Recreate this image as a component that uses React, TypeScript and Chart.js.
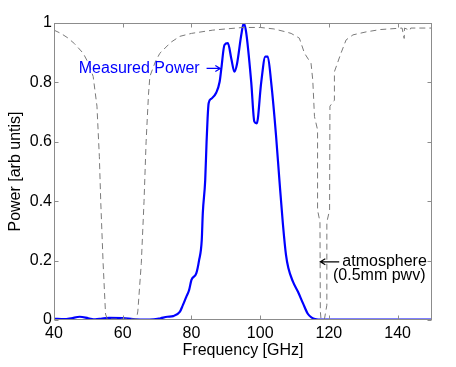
import React, { useEffect, useRef } from "react";
import { Chart, registerables } from "chart.js";

Chart.register(...registerables);

// Measured power spectrum (blue)
const powerFreq = [
  40, 43, 45, 47.5, 50, 52, 54, 56, 60, 63, 66, 69, 71, 73, 74.7, 76.6, 77.5, 78.5, 79.3, 80, 81.4, 82.2, 83, 83.3, 84,
  84.4, 84.7, 85.0, 85.8, 87.2, 88.2, 88.7, 89.6, 90.6, 91.6, 92.5, 93.2, 94.5, 95.2, 95.9, 97.4, 98.3, 99.0,
  100.3, 101.5, 102.2, 103.2, 104.6, 105.6, 106.6, 107.5, 108.2, 109.5, 111, 112.5, 113.8, 115, 116, 118, 120,
  130, 140, 150,
];
const powerValues = [
  0.004, 0.003, 0.006, 0.011, 0.006, 0.002, 0.005, 0.007, 0.006, 0.003, 0.001, 0.002, 0.006, 0.011, 0.013, 0.027,
  0.05, 0.078, 0.1, 0.135, 0.157, 0.2, 0.27, 0.36, 0.47, 0.6, 0.68, 0.73, 0.745, 0.765, 0.802, 0.847, 0.926, 0.932,
  0.88, 0.836, 0.859, 0.96, 0.999, 0.97, 0.8, 0.668, 0.662, 0.8, 0.887, 0.887, 0.8, 0.623, 0.47, 0.325, 0.22, 0.175,
  0.13, 0.095, 0.055, 0.022, 0.008, 0.003, 0.001, 0.001, 0.001, 0.001, 0.001,
];

// Atmospheric transmission, 0.5 mm pwv (dashed)
const atmFreq = [
  40, 42, 44, 46, 48.5, 50, 51.4, 52.5, 53.2, 53.6, 54.3, 55, 55.5, 64, 64.4, 65.4, 66.2, 66.8, 67.5, 67.9, 69.5, 70.8,
  74, 76.6, 80, 86.2, 90, 95, 100, 104, 107.5, 109, 111.4, 112.9, 114.8, 115.3, 115.8, 116.7, 116.7, 117.4, 117.5,
  117.7, 118.7, 119.4, 119.4, 120.2, 120.3, 121.6, 121.6, 123.5, 125, 127, 130.8, 135, 141.3, 141.9, 142.0, 143.6,
  143.8, 150,
];
const atmValues = [
  0.976, 0.965, 0.95, 0.93, 0.898, 0.865, 0.82, 0.72, 0.55, 0.4, 0.19, 0.02, 0.003, 0.003, 0.03, 0.19, 0.4, 0.6, 0.76,
  0.82, 0.87, 0.898, 0.935, 0.955, 0.965, 0.976, 0.98, 0.985, 0.985, 0.98, 0.97, 0.965, 0.949, 0.898, 0.864, 0.808,
  0.685, 0.64, 0.37, 0.33, 0.03, 0.003, 0.003, 0.05, 0.33, 0.37, 0.72, 0.74, 0.836, 0.898, 0.943, 0.96, 0.97, 0.978,
  0.983, 0.948, 0.983, 0.975, 0.983, 0.983,
];

const xTickValues = [40, 60, 80, 100, 120, 140];
const yTickValues = [0, 0.2, 0.4, 0.6, 0.8, 1];

const FONT = "'Liberation Sans', Arial, Helvetica, sans-serif";

function arrow(ctx: CanvasRenderingContext2D, x0: number, x1: number, y: number, color: string) {
  const dir = Math.sign(x1 - x0);
  ctx.save();
  ctx.strokeStyle = color;
  ctx.lineWidth = 1.2;
  ctx.beginPath();
  ctx.moveTo(x0, y);
  ctx.lineTo(x1, y);
  ctx.moveTo(x1 - dir * 5, y - 3);
  ctx.lineTo(x1, y);
  ctx.lineTo(x1 - dir * 5, y + 3);
  ctx.stroke();
  ctx.restore();
}

const framePlugin = {
  id: "frame",
  afterDatasetsDraw(chart: any) {
    const { ctx, chartArea: a, scales } = chart;
    const xs = scales.x;
    const ys = scales.y;
    ctx.save();
    ctx.strokeStyle = "#8c8c8c";
    ctx.lineWidth = 1;
    const L = Math.round(a.left) + 0.5;
    const R = Math.round(a.right) - 0.5;
    const T = Math.round(a.top) + 0.5;
    const B = Math.round(a.bottom) - 0.5;
    ctx.strokeRect(L, T, R - L, B - T);
    const tl = 4;
    ctx.beginPath();
    xTickValues.forEach((v) => {
      const px = Math.round(xs.getPixelForValue(v)) + 0.5;
      ctx.moveTo(px, B);
      ctx.lineTo(px, B - tl);
      ctx.moveTo(px, T);
      ctx.lineTo(px, T + tl);
    });
    yTickValues.forEach((v) => {
      const py = Math.round(ys.getPixelForValue(v)) + 0.5;
      ctx.moveTo(L, py);
      ctx.lineTo(L + tl, py);
      ctx.moveTo(R, py);
      ctx.lineTo(R - tl, py);
    });
    ctx.stroke();
    ctx.restore();
  },
  afterDraw(chart: any) {
    const { ctx, scales } = chart;
    const xs = scales.x;
    const ys = scales.y;
    ctx.save();
    ctx.font = `16px ${FONT}`;
    ctx.textBaseline = "middle";
    // Measured power label
    ctx.fillStyle = "#0000ff";
    ctx.textAlign = "right";
    ctx.fillText("Measured Power", xs.getPixelForValue(82.4), ys.getPixelForValue(0.845));
    arrow(ctx, xs.getPixelForValue(84.4), xs.getPixelForValue(88.4), ys.getPixelForValue(0.847), "#0000ff");
    // Atmosphere label
    ctx.fillStyle = "#000000";
    ctx.textAlign = "left";
    ctx.fillText("atmosphere", xs.getPixelForValue(123.9), ys.getPixelForValue(0.196));
    ctx.fillText("(0.5mm pwv)", xs.getPixelForValue(121.2), ys.getPixelForValue(0.148));
    arrow(ctx, xs.getPixelForValue(123.0), xs.getPixelForValue(117.5), ys.getPixelForValue(0.196), "#000000");
    ctx.restore();
  },
};

export default function App() {
  const ref = useRef<HTMLCanvasElement | null>(null);

  useEffect(() => {
    if (!ref.current) return;
    const chart = new Chart(ref.current, {
      type: "line",
      data: {
        datasets: [
          {
            label: "atmosphere",
            data: atmFreq.map((f, i) => ({ x: f, y: atmValues[i] })),
            borderColor: "#7a7a7a",
            borderWidth: 1,
            borderDash: [6, 4],
            pointRadius: 0,
            tension: 0,
            fill: false,
          },
          {
            label: "Measured Power",
            data: powerFreq.map((f, i) => ({ x: f, y: powerValues[i] })),
            borderColor: "#0000ff",
            borderWidth: 2.2,
            pointRadius: 0,
            cubicInterpolationMode: "monotone",
            borderJoinStyle: "round",
            borderCapStyle: "round",
            fill: false,
          },
        ],
      },
      options: {
        animation: false,
        responsive: false,
        maintainAspectRatio: false,
        layout: { padding: { left: 0, right: 24, top: 23, bottom: 0 } },
        plugins: { legend: { display: false }, tooltip: { enabled: false } },
        scales: {
          x: {
            type: "linear",
            min: 40,
            max: 150,
            grid: { display: false, drawTicks: false },
            border: { display: false },
            afterBuildTicks: (s: any) => {
              s.ticks = xTickValues.map((v) => ({ value: v }));
            },
            afterFit: (s: any) => {
              s.height = 47;
            },
            ticks: {
              padding: 4,
              color: "#000",
              font: { family: FONT, size: 16 },
              maxRotation: 0,
              autoSkip: false,
              callback: (v: any) => String(v),
            },
            title: {
              display: true,
              text: "Frequency [GHz]",
              color: "#000",
              font: { family: FONT, size: 16 },
              padding: { top: 0, bottom: 7 },
            },
          },
          y: {
            type: "linear",
            min: 0,
            max: 1,
            grid: { display: false, drawTicks: false },
            border: { display: false },
            afterBuildTicks: (s: any) => {
              s.ticks = yTickValues.map((v) => ({ value: v }));
            },
            afterFit: (s: any) => {
              s.width = 54;
            },
            ticks: {
              padding: 2,
              color: "#000",
              font: { family: FONT, size: 16 },
              autoSkip: false,
              callback: (v: any) => String(v),
            },
            title: {
              display: true,
              text: "Power [arb untis]",
              color: "#000",
              font: { family: FONT, size: 16 },
              padding: { top: 6, bottom: 0 },
            },
          },
        },
      },
      plugins: [framePlugin],
    });
    return () => chart.destroy();
  }, []);

  return (
    <div style={{ position: "fixed", left: 0, top: 0, width: 456, height: 367, background: "#fff" }}>
      <canvas ref={ref} width={456} height={367} style={{ width: 456, height: 367, display: "block" }} />
    </div>
  );
}
